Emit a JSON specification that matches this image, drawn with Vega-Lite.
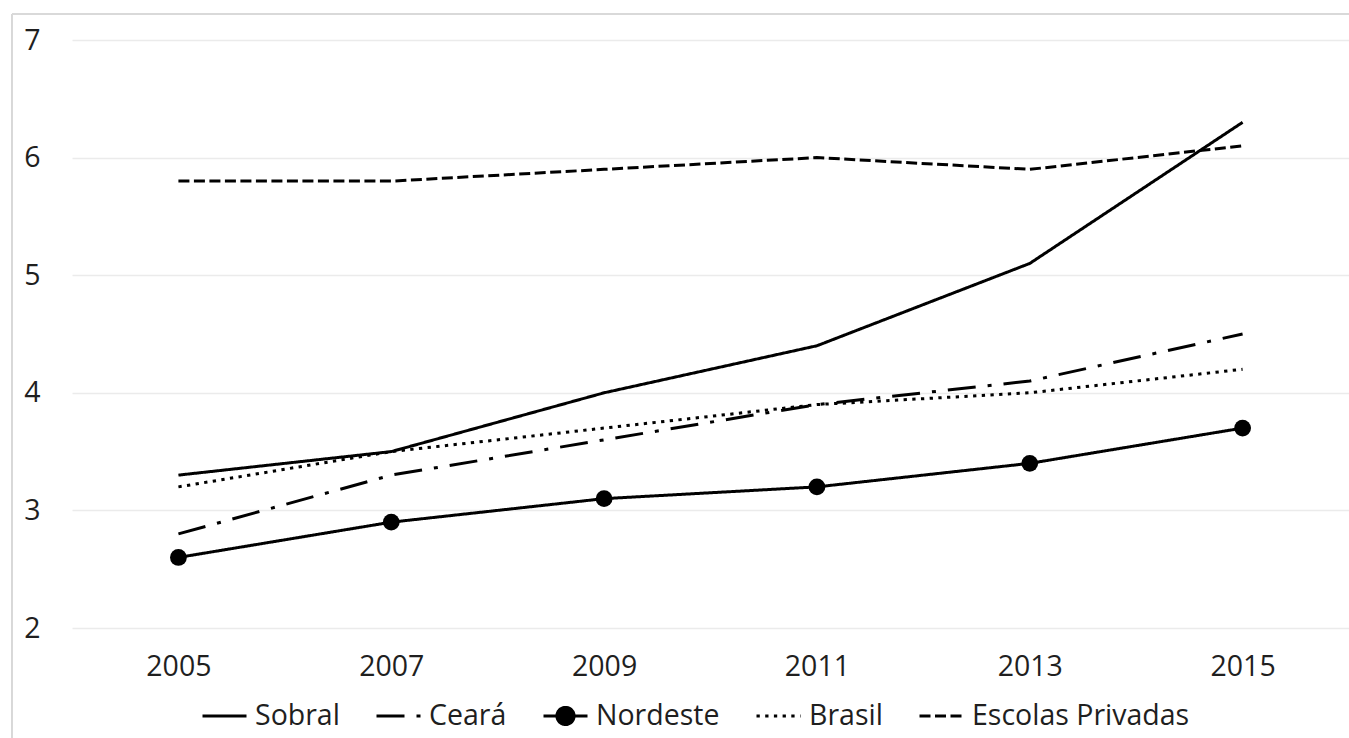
{
  "$schema": "https://vega.github.io/schema/vega-lite/v6.json",
  "autosize": "none",
  "width": 1277,
  "height": 588,
  "padding": {"left": 72, "top": 40, "right": 0, "bottom": 110},
  "background": "white",
  "config": {
    "view": {"stroke": null},
    "font": "Open Sans",
    "axis": {"labelFont": "Open Sans", "labelFontSize": 28.5, "labelColor": "#1f1f1f", "domain": false, "ticks": false, "tickSize": 0},
    "legend": {"labelFont": "Open Sans", "labelFontSize": 28.5, "labelColor": "#1f1f1f", "labelLimit": 500}
  },
  "data": {
    "values": [
      {"ano": 2005, "serie": "Sobral", "nota": 3.3},
      {"ano": 2007, "serie": "Sobral", "nota": 3.5},
      {"ano": 2009, "serie": "Sobral", "nota": 4.0},
      {"ano": 2011, "serie": "Sobral", "nota": 4.4},
      {"ano": 2013, "serie": "Sobral", "nota": 5.1},
      {"ano": 2015, "serie": "Sobral", "nota": 6.3},
      {"ano": 2005, "serie": "Ceará", "nota": 2.8},
      {"ano": 2007, "serie": "Ceará", "nota": 3.3},
      {"ano": 2009, "serie": "Ceará", "nota": 3.6},
      {"ano": 2011, "serie": "Ceará", "nota": 3.9},
      {"ano": 2013, "serie": "Ceará", "nota": 4.1},
      {"ano": 2015, "serie": "Ceará", "nota": 4.5},
      {"ano": 2005, "serie": "Nordeste", "nota": 2.6},
      {"ano": 2007, "serie": "Nordeste", "nota": 2.9},
      {"ano": 2009, "serie": "Nordeste", "nota": 3.1},
      {"ano": 2011, "serie": "Nordeste", "nota": 3.2},
      {"ano": 2013, "serie": "Nordeste", "nota": 3.4},
      {"ano": 2015, "serie": "Nordeste", "nota": 3.7},
      {"ano": 2005, "serie": "Brasil", "nota": 3.2},
      {"ano": 2007, "serie": "Brasil", "nota": 3.5},
      {"ano": 2009, "serie": "Brasil", "nota": 3.7},
      {"ano": 2011, "serie": "Brasil", "nota": 3.9},
      {"ano": 2013, "serie": "Brasil", "nota": 4.0},
      {"ano": 2015, "serie": "Brasil", "nota": 4.2},
      {"ano": 2005, "serie": "Escolas Privadas", "nota": 5.8},
      {"ano": 2007, "serie": "Escolas Privadas", "nota": 5.8},
      {"ano": 2009, "serie": "Escolas Privadas", "nota": 5.9},
      {"ano": 2011, "serie": "Escolas Privadas", "nota": 6.0},
      {"ano": 2013, "serie": "Escolas Privadas", "nota": 5.9},
      {"ano": 2015, "serie": "Escolas Privadas", "nota": 6.1}
    ]
  },
  "layer": [
    {
      "mark": {"type": "rule", "color": "#d9d9d9", "strokeWidth": 1.5, "clip": false},
      "encoding": {
        "x": {"datum": 2003.436, "type": "quantitative"},
        "y": {"datum": 7.221, "type": "quantitative"},
        "y2": {"datum": 1.0}
      }
    },
    {
      "mark": {"type": "rule", "color": "#d9d9d9", "strokeWidth": 1.5, "clip": false},
      "encoding": {
        "x": {"datum": 2003.436, "type": "quantitative"},
        "x2": {"datum": 2016.2},
        "y": {"datum": 7.221, "type": "quantitative"}
      }
    },
    {
      "mark": {"type": "line", "color": "#000000", "strokeWidth": 3},
      "encoding": {
        "x": {
          "field": "ano", "type": "quantitative",
          "scale": {"domain": [2004, 2016], "nice": false, "zero": false},
          "axis": {"title": null, "values": [2005, 2007, 2009, 2011, 2013, 2015], "format": "d", "grid": false, "labelPadding": 24}
        },
        "y": {
          "field": "nota", "type": "quantitative",
          "scale": {"domain": [2, 7], "nice": false, "zero": false},
          "axis": {"title": null, "values": [2, 3, 4, 5, 6, 7], "format": "d", "grid": true, "gridColor": "#ebebeb", "gridWidth": 1.5, "labelPadding": 32}
        },
        "strokeDash": {
          "field": "serie", "type": "nominal",
          "scale": {
            "domain": ["Sobral", "Ceará", "Nordeste", "Brasil", "Escolas Privadas"],
            "range": [[1, 0], [28, 12, 4, 12], [1, 0], [3.3, 5.4], [11, 4.5]]
          },
          "legend": {
            "title": null,
            "orient": "none",
            "direction": "horizontal",
            "legendX": 129,
            "legendY": 652,
            "padding": 0,
            "columnPadding": 30,
            "labelOffset": 7,
            "labelLimit": 500,
            "symbolSize": 1936,
            "symbolStrokeWidth": 3,
            "symbolStrokeColor": "#000000",
            "encode": {
              "symbols": {
                "update": {
                  "shape": {"signal": "datum.value === 'Nordeste' ? 'M-1,0H1M-0.39,0A0.39,0.39,0,1,1,0.39,0A0.39,0.39,0,1,1,-0.39,0Z' : 'stroke'"},
                  "fill": {"signal": "datum.value === 'Nordeste' ? '#000000' : 'transparent'"},
                  "stroke": {"value": "#000000"}
                }
              }
            }
          }
        },
        "detail": {"field": "serie"}
      }
    },
    {
      "transform": [{"filter": "datum.serie === 'Nordeste'"}],
      "mark": {"type": "point", "filled": true, "color": "#000000", "size": 283, "opacity": 1},
      "encoding": {
        "x": {"field": "ano", "type": "quantitative"},
        "y": {"field": "nota", "type": "quantitative"}
      }
    }
  ]
}
